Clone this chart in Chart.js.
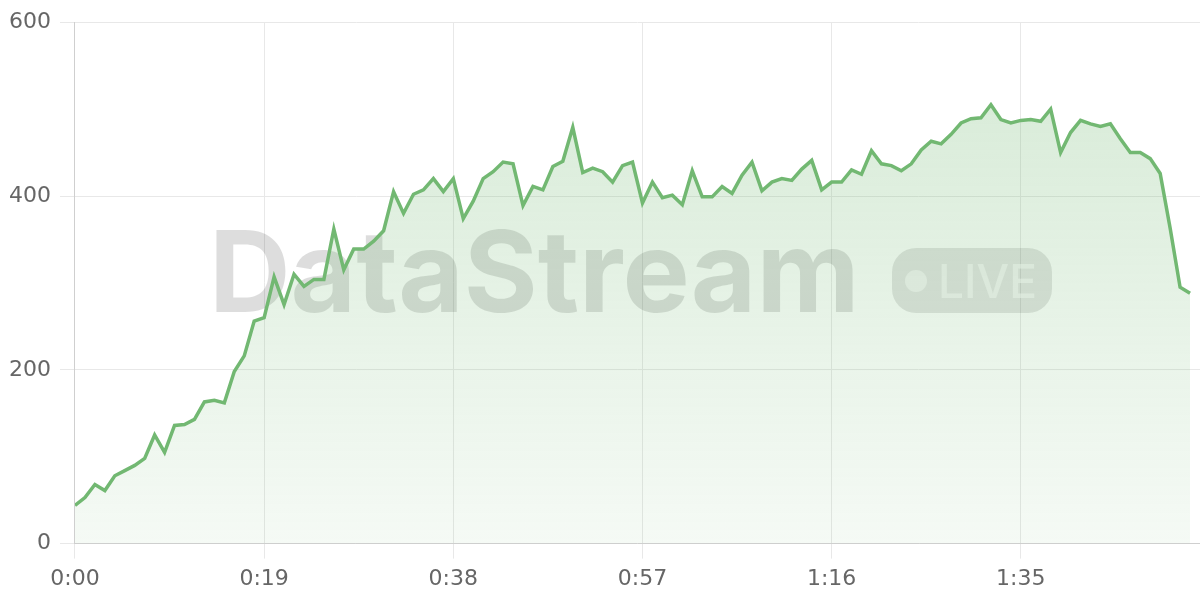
<!DOCTYPE html>
<html lang="en">
<head>
<meta charset="UTF-8">
<title>DataStream Live</title>
<script src="https://cdn.jsdelivr.net/npm/chart.js"></script>
<style>
  html, body { margin: 0; padding: 0; background: #fff; }
  #wrap { width: 1200px; height: 600px; }
</style>
</head>
<body>
<div id="wrap"><canvas id="liveChart"></canvas></div>

<script>
// viewers per second (0:00 .. 1:52)
const viewers = [
  44, 53, 68, 61, 78, 84, 90, 98, 125, 105,
  136, 137, 143, 163, 165, 162, 198, 216, 256, 260,
  307, 275, 310, 296, 304, 304, 362, 315, 339, 339,
  348, 360, 405, 380, 402, 407, 420, 405, 420, 374,
  394, 420, 428, 439, 437, 389, 411, 407, 434, 440,
  479, 427, 432, 428, 416, 435, 439, 392, 416, 398,
  401, 390, 429, 399, 399, 411, 403, 424, 439, 406,
  416, 420, 418, 431, 441, 407, 416, 416, 430, 425,
  452, 437, 435, 429, 437, 453, 463, 460, 471, 484,
  489, 490, 505, 488, 484, 487, 488, 486, 500, 450,
  473, 487, 483, 480, 483, 466, 450, 450, 443, 426,
  363, 295, 288
];
const seconds = viewers.map((v, i) => i);
const xMax = 113;
const xStep = 19;     // 0:00, 0:19, 0:38 ...
const yMax = 600;
const yStep = 200;

const lineColor = 'rgb(114, 184, 114)';

function fmtTime(s) {
  const m = Math.floor(s / 60);
  return m + ':' + String(s % 60).padStart(2, '0');
}

// big "DataStream LIVE" mark behind the line
const watermark = {
  id: 'watermark',
  beforeDatasetsDraw(chart) {
    const ctx = chart.ctx;
    ctx.save();
    ctx.textBaseline = 'alphabetic';
    ctx.textAlign = 'left';
    ctx.font = '700 113px Inter';
    ctx.fillStyle = 'rgba(0, 0, 0, 0.135)';
    ctx.fillText('DataStream', 209, 312);

    ctx.beginPath();
    ctx.roundRect(892, 248, 160, 65, 24);
    ctx.fillStyle = 'rgba(0, 0, 0, 0.11)';
    ctx.fill();

    ctx.fillStyle = 'rgba(255, 255, 255, 0.55)';
    ctx.beginPath();
    ctx.arc(916, 281, 11, 0, Math.PI * 2);
    ctx.fill();
    ctx.font = '500 46px Inter';
    ctx.fillText('LIVE', 938, 298);
    ctx.restore();
  }
};

Chart.defaults.font.family = '"DejaVu Sans", sans-serif';
Chart.defaults.font.size = 22;
Chart.defaults.color = '#666';

const ctx = document.getElementById('liveChart').getContext('2d');
new Chart(ctx, {
  type: 'line',
  data: {
    labels: seconds,
    datasets: [{
      data: viewers,
      borderColor: lineColor,
      borderWidth: 3.5,
      pointRadius: 0,
      tension: 0,
      fill: 'origin',
      backgroundColor(context) {
        const area = context.chart.chartArea;
        if (!area) return 'rgba(114, 184, 114, 0.2)';
        const g = context.chart.ctx.createLinearGradient(0, area.top, 0, area.bottom);
        g.addColorStop(0, 'rgba(114, 184, 114, 0.3)');
        g.addColorStop(1, 'rgba(114, 184, 114, 0.07)');
        return g;
      }
    }]
  },
  options: {
    responsive: true,
    maintainAspectRatio: false,
    animation: false,
    layout: { padding: { top: 5, right: 0, bottom: 0, left: 0 } },
    plugins: {
      legend: { display: false },
      tooltip: { enabled: false }
    },
    scales: {
      x: {
        type: 'linear',
        min: 0,
        max: xMax,
        grid: { color: '#e8e8e8', tickLength: 15 },
        border: { color: '#cfcfcf' },
        ticks: {
          stepSize: xStep,
          includeBounds: false,
          maxRotation: 0,
          padding: 7.5,
          callback: (v) => fmtTime(v)
        }
      },
      y: {
        min: 0,
        max: yMax,
        grid: { color: '#e8e8e8', tickLength: 15 },
        border: { color: '#cfcfcf' },
        ticks: { stepSize: yStep, padding: 9 }
      }
    }
  },
  plugins: [watermark]
});
</script>
</body>
</html>
